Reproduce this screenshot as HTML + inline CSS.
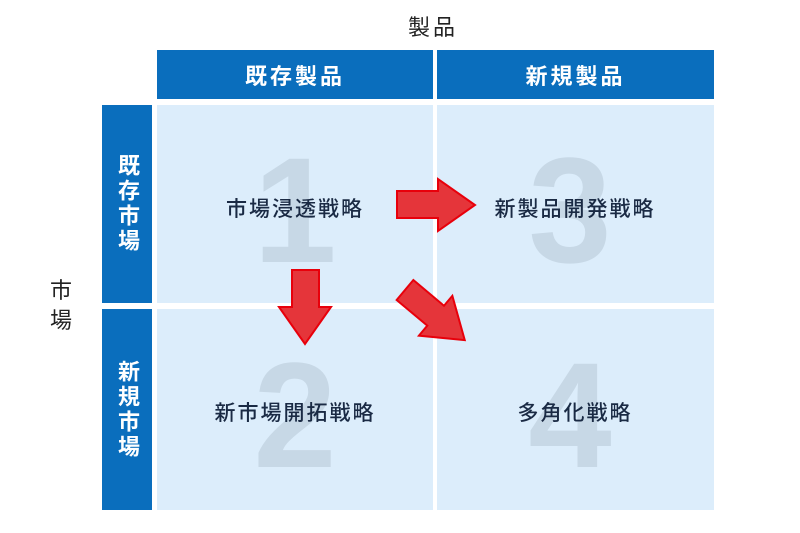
<!DOCTYPE html>
<html><head><meta charset="utf-8"><style>
body{margin:0;width:800px;height:533px;background:#fff;position:relative;overflow:hidden;font-family:"Liberation Sans","Noto Sans CJK JP",sans-serif}
div{position:absolute;box-sizing:border-box}
.h{background:#0a6ebd;color:#fff;font-size:22px;letter-spacing:3px;display:flex;align-items:center;justify-content:center;font-weight:bold}
.v{background:#0a6ebd;color:#fff;font-size:22px;font-weight:bold;display:flex;align-items:center;justify-content:center;writing-mode:vertical-rl;letter-spacing:3px}
.c{background:#dcedfb}
.n{font-family:"Liberation Sans",sans-serif;font-weight:bold;font-size:150px;color:#c7d8e6;width:120px;text-align:center;line-height:1}
.t{font-size:21px;letter-spacing:2px;color:#1a2a44;width:276px;text-align:center;font-weight:500}
</style></head><body>
<div style="left:408px;top:10px;font-size:22px;letter-spacing:3px;color:#222;">製品</div>
<div style="left:50px;top:276px;font-size:22px;color:#222;width:24px;line-height:30px">市<br>場</div>
<div class="h" style="left:157px;top:50px;width:276px;height:49px">既存製品</div>
<div class="h" style="left:437px;top:50px;width:277px;height:49px">新規製品</div>
<div class="v" style="left:102px;top:105px;width:50px;height:198px">既存市場</div>
<div class="v" style="left:102px;top:309px;width:50px;height:201px">新規市場</div>
<div class="c" style="left:157px;top:105px;width:276px;height:198px"></div>
<div class="c" style="left:437px;top:105px;width:277px;height:198px"></div>
<div class="c" style="left:157px;top:309px;width:276px;height:201px"></div>
<div class="c" style="left:437px;top:309px;width:277px;height:201px"></div>
<div class="n" style="left:235px;top:135px">1</div>
<div class="n" style="left:510px;top:135px">3</div>
<div class="n" style="left:235px;top:340px">2</div>
<div class="n" style="left:510px;top:340px">4</div>
<div class="t" style="left:157px;top:193px">市場浸透戦略</div>
<div class="t" style="left:437px;top:193px">新製品開発戦略</div>
<div class="t" style="left:157px;top:397px">新市場開拓戦略</div>
<div class="t" style="left:437px;top:397px">多角化戦略</div>
<svg width="800" height="533" style="position:absolute;left:0;top:0">
<g fill="#e5353a" stroke="#e8000b" stroke-width="2" stroke-linejoin="miter">
<polygon points="397,191 438,191 438,179 475,205 438,231 438,218 397,218"/>
<polygon points="292,270 319,270 319,307 331,307 305,344 279,307 292,307"/>
<g transform="translate(405,290) rotate(40)"><polygon points="0,-13 40,-13 40,-26 78,0 40,26 40,13 0,13"/></g>
</g>
</svg>
</body></html>
